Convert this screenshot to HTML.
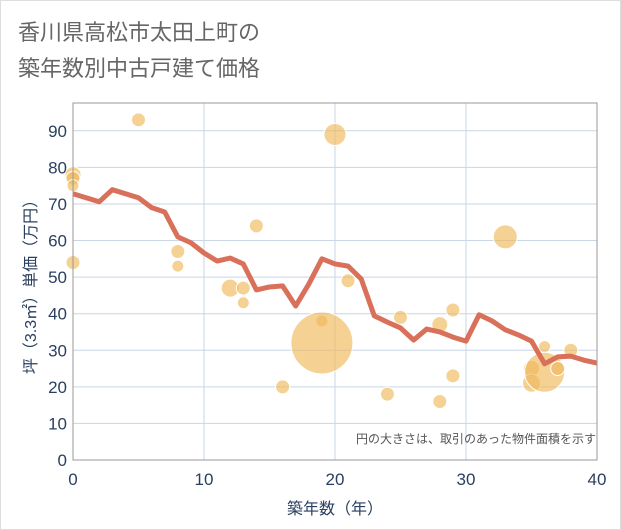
<!DOCTYPE html>
<html><head><meta charset="utf-8"><style>
body{margin:0;background:#fff;}
svg{display:block;font-family:"Liberation Sans","Noto Sans CJK JP",sans-serif;}
</style></head><body>
<svg id="c" width="621" height="530">
<rect x="0.5" y="0.5" width="620" height="529" fill="#fff" stroke="#ddd"/>
<text x="18" y="40" font-size="22" fill="#666">香川県高松市太田上町の</text>
<text x="18" y="76" font-size="22" fill="#666">築年数別中古戸建て価格</text>
<g id="grid"></g><g id="bub"></g><g id="ln"></g><g id="ax"></g>
<text x="596" y="443" font-size="12" fill="#555" text-anchor="end">円の大きさは、取引のあった物件面積を示す</text>
<text x="335" y="514" font-size="16" fill="#2a3f5f" text-anchor="middle">築年数（年）</text>
<text transform="translate(36,283) rotate(-90)" font-size="16" fill="#2a3f5f" text-anchor="middle">坪（3.3㎡）単価（万円）</text>
</svg>
<script>
const xTicks=[0,10,20,30,40];
const yTicks=[0,10,20,30,40,50,60,70,80,90];
const lineYears=[0,2,3,5,6,7,8,9,10,11,12,13,14,15,16,17,18,19,20,21,22,23,24,25,26,27,28,29,30,31,32,33,34,35,36,37,38,39,40];
const lineValues=[72.8,70.6,73.9,71.7,69,67.8,61,59.4,56.6,54.4,55.2,53.6,46.5,47.3,47.6,42.1,48.1,55,53.6,53,49.5,39.4,37.7,36.1,32.8,35.8,35,33.6,32.5,39.7,38,35.6,34.2,32.5,26.3,28.2,28.4,27.3,26.5];
const bubbleYears=[0,0,0,0,5,8,8,12,13,13,14,16,19,19,20,21,24,25,28,28,29,29,33,35,35,36,36,37,38];
const bubbleValues=[78,77,75,54,93,57,53,47,47,43,64,20,38,32,89,49,18,39,37,16,41,23,61,25,21,31,24,25,30];
const bubbleAreas=[64,49,36,49,49,49,36,81,49,36,49,49,36,961,121,49,49,49,64,49,49,49,144,64,81,36,400,49,49];
const X0=73,X1=597,Y0=460,Y1=103,YMAX=97.6;
const sx=v=>X0+(X1-X0)*v/40, sy=v=>Y0-(Y0-Y1)*v/YMAX;
const NS="http://www.w3.org/2000/svg";
function mk(p,t,a){const e=document.createElementNS(NS,t);for(const k in a)e.setAttribute(k,a[k]);p.appendChild(e);return e;}
const grid=document.getElementById('grid'),ax=document.getElementById('ax');
yTicks.forEach(v=>{const l=mk(grid,'line',{x1:X0,x2:X1,y1:sy(v),y2:sy(v),stroke:'#c8d6e6','stroke-width':1});


const t=mk(ax,'text',{x:X0-6,y:sy(v)+6,'font-size':17,fill:'#2a3f5f','text-anchor':'end'});t.textContent=v;

});
xTicks.forEach(v=>{const l=mk(grid,'line',{x1:sx(v),x2:sx(v),y1:Y1,y2:Y0,stroke:'#c8d6e6','stroke-width':1});


const t=mk(ax,'text',{x:sx(v),y:Y0+25,'font-size':17,fill:'#2a3f5f','text-anchor':'middle'});t.textContent=v;

});
const fr=mk(ax,'rect',{x:X0,y:Y1,width:X1-X0,height:Y0-Y1,fill:'none',stroke:'#999','stroke-width':1});


const bub=document.getElementById('bub');
bubbleYears.forEach((yr,i)=>{const c=mk(bub,'circle',{cx:sx(yr),cy:sy(bubbleValues[i]),r:Math.sqrt(bubbleAreas[i]),fill:'#f0b85a','fill-opacity':0.65,stroke:'#fff','stroke-width':1});

});
const pts=lineYears.map((y,i)=>sx(y)+','+sy(lineValues[i])).join(' ');
const pl=mk(document.getElementById('ln'),'polyline',{points:pts,fill:'none',stroke:'#d9705a','stroke-width':5,'stroke-linejoin':'round'});


</script>
</body></html>
